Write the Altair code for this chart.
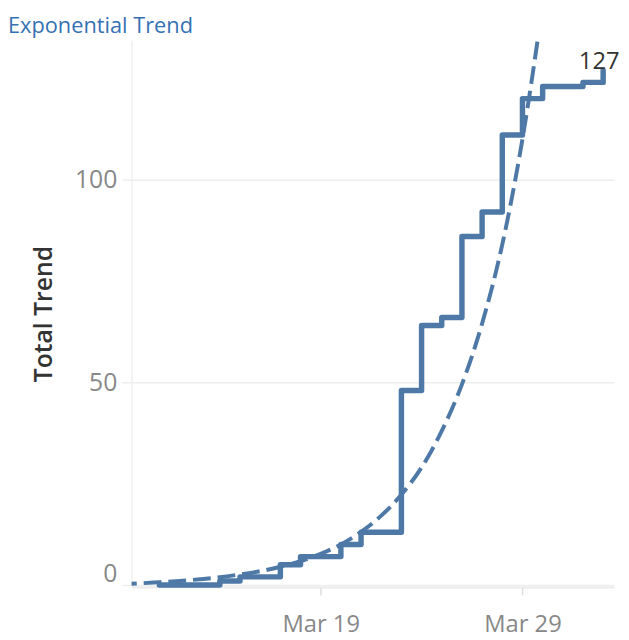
import altair as alt
import pandas as pd

# Step series (daily totals)
step_dates = [
    "2020-03-11", "2020-03-12", "2020-03-13", "2020-03-14", "2020-03-15",
    "2020-03-16", "2020-03-17", "2020-03-18", "2020-03-19", "2020-03-20",
    "2020-03-21", "2020-03-22", "2020-03-23", "2020-03-24", "2020-03-25",
    "2020-03-26", "2020-03-27", "2020-03-28", "2020-03-29", "2020-03-30",
    "2020-03-31", "2020-04-01", "2020-04-02",
]
step_values = [0, 0, 0, 1, 2, 2, 5, 7, 7, 10, 13, 13, 48, 64, 66, 86, 92,
               111, 120, 123, 123, 124, 127]

# Exponential trend line
trend_dates = [
    "2020-03-09", "2020-03-10", "2020-03-11", "2020-03-12", "2020-03-13",
    "2020-03-14", "2020-03-15", "2020-03-16", "2020-03-17", "2020-03-18",
    "2020-03-19", "2020-03-20", "2020-03-21", "2020-03-22", "2020-03-23",
    "2020-03-24", "2020-03-25", "2020-03-26", "2020-03-27", "2020-03-28",
    "2020-03-29", "2020-03-30",
]
trend_values = [0.2, 0.4, 0.7, 1.0, 1.4, 1.9, 2.6, 3.4, 4.5, 5.9, 7.7, 10.0,
                13.1, 17.1, 22.3, 29.0, 38.0, 49.5, 64.5, 84.0, 110.0, 143.0]

y_ticks = [0, 50, 100]
title_text = "Exponential Trend"
y_title = "Total Trend"

step_df = pd.DataFrame({"date": step_dates, "total": step_values})
trend_df = pd.DataFrame({"date": trend_dates, "total": trend_values})
last_df = step_df.tail(1)

BLUE = "#4e79a7"
FONT = "Open Sans"

x_enc = alt.X(
    "date:T",
    scale=alt.Scale(
        type="utc",
        domain=[
            alt.DateTime(year=2020, month=3, date=9, hours=15, utc=True),
            alt.DateTime(year=2020, month=4, date=2, hours=13, utc=True),
        ],
    ),
    axis=alt.Axis(
        values=[
            alt.DateTime(year=2020, month=3, date=19, utc=True),
            alt.DateTime(year=2020, month=3, date=29, utc=True),
        ],
        labelExpr="utcFormat(datum.value, '%b %d')",
        title=None,
        grid=False,
        tickSize=8,
        tickColor="#dddddd",
        tickWidth=1.5,
        domainColor="#ebebeb",
        domainWidth=2,
        labelPadding=18,
        labelFontSize=24,
        labelFont=FONT,
        labelColor="#888888",
    ),
)

y_enc = alt.Y(
    "total:Q",
    scale=alt.Scale(domain=[-0.5, 134.4], nice=False, zero=False),
    axis=alt.Axis(
        values=y_ticks,
        title=y_title,
        grid=True,
        gridColor="#eeeeee",
        gridWidth=1.5,
        tickSize=10,
        tickColor="#eeeeee",
        tickWidth=1.5,
        domainColor="#f0f0f0",
        domainWidth=1.5,
        labelPadding=5,
        labelFontSize=25,
        labelFont=FONT,
        labelColor="#888888",
        labelOffset=alt.condition("datum.value == 0", alt.value(-12), alt.value(0)),
        titleFontSize=25,
        titleFont=FONT,
        titleFontWeight=600,
        titleColor="#333333",
        titleX=-89,
        titleBaseline="middle",
    ),
)

step = alt.Chart(step_df).mark_line(
    interpolate="step-after", strokeWidth=5.5, color=BLUE, strokeJoin="round", strokeCap="round"
).encode(x=x_enc, y=y_enc)

trend = alt.Chart(trend_df).mark_line(
    strokeDash=[18, 7], strokeWidth=4, color=BLUE, clip=True, interpolate="monotone"
).encode(x=x_enc, y=y_enc)

label = alt.Chart(last_df).mark_text(
    dx=-4, dy=-1, fontSize=24, font=FONT, color="#333333", baseline="alphabetic", align="center"
).encode(x=x_enc, y=y_enc, text=alt.Text("total:Q"))

chart = alt.layer(trend, step, label).properties(
    width=488,
    height=553,
    title=alt.TitleParams(
        title_text,
        anchor="start",
        frame="group",
        dx=-125,
        offset=2,
        fontSize=22,
        font=FONT,
        fontWeight="normal",
        color="#3571b3",
    ),
    autosize=alt.AutoSizeParams(type="none"),
    padding={"left": 125, "top": 29, "right": 7, "bottom": 50},
).configure_view(stroke=None)

chart.save("out.html", embed_options={"renderer": "svg", "actions": False})
